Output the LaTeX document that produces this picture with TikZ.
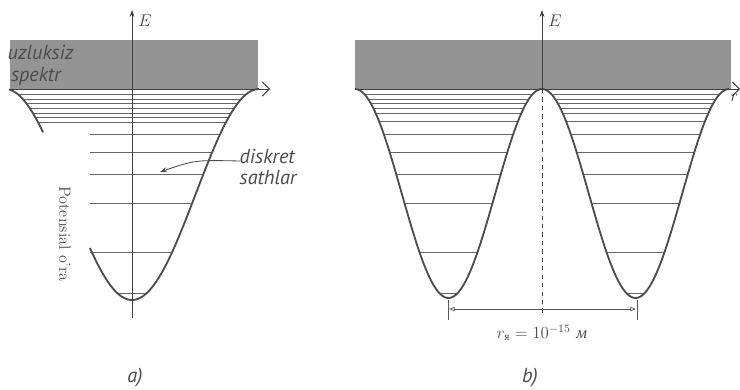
\documentclass[tikz,border=0pt]{standalone}
\usepackage{amsmath}
\usepackage{fontspec}
\newfontfamily\labelfont{PT Sans}
\newfontfamily\cyrfont{Liberation Serif}
\usetikzlibrary{arrows.meta,positioning}

\begin{document}
\begin{tikzpicture}[x=0.025cm, y=-0.025cm,
  every node/.style={font=\large},
  well/.style={line width=1.3pt, draw=black!70},
  level/.style={line width=0.5pt, draw=black!60},
  axis/.style={line width=0.7pt, draw=black!75},
  band/.style={fill=black!42, draw=none},
  lbl/.style={font=\labelfont\itshape\fontsize{14.4}{15.5}\selectfont, text=black!70, inner sep=1pt}]
  \useasboundingbox (0,0) rectangle (740,389);

  % a) single well
  \begin{scope}
    \fill[band] (10,40) rectangle (258,89);
    \foreach \yy in {94,99,103,108,113,117,122,293} {
      \pgfmathsetmacro\off{acos(1-2*(300-\yy)/211)/180*127}
      \draw[level] ({132-\off},\yy) -- ({132+\off},\yy);
    }
    \foreach \yy in {134,152,174,203,252} {
      \pgfmathsetmacro\off{acos(1-2*(300-\yy)/211)/180*127}
      \draw[level] (90,\yy) -- ({132+\off},\yy);
    }
    \draw[well] plot[domain=90:259, samples=80] (\x, {89+105.5*(1+cos((\x-132)/127*180))});
    \draw[well] plot[domain=9:43, samples=20] (\x, {89+105.5*(1+cos((\x-132)/127*180))});
    \coordinate (a0) at (10,89);
    \coordinate (ar) at (270,89);
    \coordinate (ab) at (132,318);
    \coordinate (at) at (132,10);
    \draw[axis,-{Straight Barb[length=5pt]}] (a0) -- (ar);
    \draw[axis,-{Stealth[length=5pt,width=3.5pt]}] (ab) -- (at);
    \node[right=1pt of at, anchor=north west, font=\large\itshape, text=black!75] (aE) {$E$};
    \node[lbl, anchor=west, align=left] (cont) at (6,65) {uzluksiz\\\,spektr};
    \node[lbl, anchor=west, align=left] (disc) at (238,167) {diskret\\sathlar};
    \coordinate (dstart) at (240,161);
    \coordinate (dtip) at (160,172);
    \draw[line width=0.6pt, black!70, -{Stealth[length=5pt,width=3.5pt]}] (dstart) .. controls (195,160) .. (dtip);
    \node[rotate=-90, text=black!70, font=\fontsize{11.5}{13}\selectfont] (pot) at (65,234) {Potensial o'ra};
    \node[lbl] (capa) at (135,378) {a)};
  \end{scope}

  % b) two wells
  \begin{scope}
    \fill[band] (355,40) rectangle (731,89);
    \foreach \yy in {94,99,103,108,113,121,134,152,174,203,252,293} {
      \pgfmathsetmacro\off{acos(1-2*(298-\yy)/209)/180*93.5}
      \draw[level] ({448.5-\off},\yy) -- ({448.5+\off},\yy);
      \draw[level] ({635.5-\off},\yy) -- ({635.5+\off},\yy);
    }
    \draw[well] plot[domain=355:729, samples=160] (\x, {89+104.5*(1+cos((\x-448.5)/93.5*180))});
    \coordinate (b0) at (355,89);
    \coordinate (br) at (740,89);
    \coordinate (bm) at (542,89);
    \coordinate (bb) at (542,316);
    \coordinate (bt) at (542,10);
    \draw[axis,-{Straight Barb[length=5pt]}] (b0) -- (br);
    \draw[axis,-{Stealth[length=5pt,width=3.5pt]}] (bm) -- (bt);
    \draw[axis,dashed] (bm) -- (bb);
    \node[right=1pt of bt, anchor=north west, font=\large\itshape, text=black!75] (bE) {$E$};
    \node[text=black!75, anchor=north east, inner sep=1pt] (rlab) at (740,93) {$r$};
    \coordinate (tl) at (448,300);
    \coordinate (tr) at (637,300);
    \draw[line width=0.5pt, black!65] (tl) -- ++(0,20);
    \draw[line width=0.5pt, black!65] (tr) -- ++(0,20);
    \coordinate (dl) at (449,309);
    \coordinate (dr) at (636,309);
    \draw[line width=0.5pt, black!65, {Triangle[open,length=4pt,width=3pt]}-{Triangle[open,length=4pt,width=3pt]}] (dl) -- (dr);
    \node[text=black!70] (rad) at (542,333) {$r_{\text{\cyrfont я}} = 10^{-15}$ {\cyrfont\itshape м}};
    \node[lbl] (capb) at (530,378) {b)};
  \end{scope}
\end{tikzpicture}
\end{document}
